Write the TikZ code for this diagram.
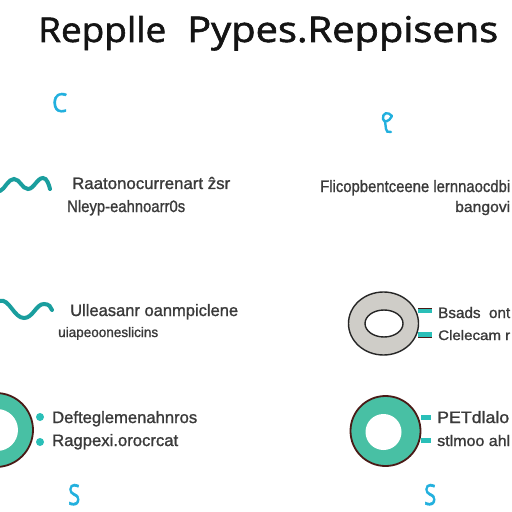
\documentclass[tikz,border=0pt]{standalone}
\usepackage{fontspec}
\setmainfont[FakeBold=1.2]{Liberation Sans}
\newfontfamily\titlefont[FakeBold=1.6]{Open Sans}
\newfontfamily\glyphfont[FakeBold=2]{Open Sans}
\newcommand\fitbox[3]{\resizebox{#1bp}{#2bp}{#3}}
\definecolor{wavec}{HTML}{1A9E9E}
\definecolor{tealfill}{HTML}{48C0A4}
\definecolor{tealbar}{HTML}{2ABFB8}
\definecolor{darkring}{HTML}{4A1A16}
\definecolor{grayfill}{HTML}{CFCDC8}
\definecolor{cyanglyph}{HTML}{22B0DE}
\definecolor{bodytext}{HTML}{3A3A3A}
\tikzset{
  wavestyle/.style={draw=wavec, line width=4bp, line cap=round},
  txt/.style={anchor=base west, inner sep=0pt, text=bodytext},
  ttl/.style={anchor=base west, inner sep=0pt, text=black!92},
  glyph/.style={anchor=base west, inner sep=0pt, text=cyanglyph},
  tealring/.style={fill=tealfill, draw=darkring, line width=1.8bp},
  grayring/.style={fill=grayfill, draw=black!85, line width=1.4bp},
  barbox/.style={fill=tealbar, draw=none},
  dotmark/.style={circle, fill=tealbar, inner sep=0pt, minimum size=8bp}
}
\begin{document}
\begin{tikzpicture}[x=1bp,y=-1bp]
\useasboundingbox (0,0) rectangle (512,512);
\fill[white] (0,0) rectangle (512,512);
\clip (0,0) rectangle (512,512);

% title
\node[ttl] (t1) at (38,42) {\titlefont\fitbox{128}{26}{Repplle}};
\node[ttl] (t2) at (187,42) {\titlefont\fitbox{311}{26}{Pypes.Reppisens}};

% small cyan glyphs
\node[glyph] (gc) at (52,112) {\glyphfont\fitbox{15}{19}{C}};
\draw[cyanglyph, line width=2.4bp, line cap=round] (392,116) .. controls (388,111) and (382,113) .. (383,119) .. controls (384,123) and (389,122) .. (392,116);
\draw[cyanglyph, line width=2.4bp, line cap=round] (385,121) -- (386,129) .. controls (386,132) and (388,132) .. (391,132);
\node[glyph] (gs1) at (68,505) {\glyphfont\fitbox{12}{21}{S}};
\node[glyph] (gs2) at (424,505) {\glyphfont\fitbox{12}{21}{S}};

% top-left wave and text
\draw[wavestyle] (0,191) .. controls (5,189) and (8,179) .. (14,179) .. controls (20,179) and (22,189) .. (28,189) .. controls (34,189) and (37,178) .. (43,178) .. controls (47,178) and (49,185) .. (50,189);
\node[txt] (a1) at (72,189) {\fitbox{158}{12}{Raatonocurrenart ẑsr}};
\node[txt] (a2) at (67,212) {\fitbox{118}{12}{Nleyp-eahnoarr0s}};

% top-right text
\node[txt] (b1) at (320,192) {\fitbox{190}{12}{Flicopbentceene lernnaocdbi}};
\node[txt] (b2) at (455,212) {\fitbox{55}{11}{bangovi}};

% middle-left wave and text
\draw[wavestyle] (0,301) .. controls (9,298) and (14,318) .. (24,318) .. controls (33,318) and (36,304) .. (44,304) .. controls (49,304) and (51,307) .. (52,310);
\node[txt] (c1) at (70,316) {\fitbox{168}{12}{Ulleasanr oanmpiclene}};
\node[txt] (c2) at (58,337) {\fitbox{100}{10}{uiapeooneslicins}};

% middle-right gray donut
\path[grayring, even odd rule] (383.5,323.5) ellipse [x radius=35, y radius=31.5] (384,323.5) ellipse [x radius=19, y radius=13.5];
\node[inner sep=0pt, minimum size=1bp] (gd) at (383.5,323.5) {};
\fill[barbox] (418,308) rectangle (432,313);
\draw[darkring, line width=1bp] (418,308) -- (432,308);
\fill[barbox] (418,332) rectangle (432,337);
\draw[darkring, line width=1bp] (418,337) -- (432,337);
\node[txt] (d1) at (438,318) {\fitbox{72}{11}{Bsads\ \ ont}};
\node[txt] (d2) at (438,340) {\fitbox{72}{10}{Clelecam r}};

% bottom-left teal ring
\path[tealring] (-4,430) circle (37);
\fill[white] (-3,430) circle (21);
\node[inner sep=0pt, minimum size=1bp] (ra) at (-4,430) {};
\node[dotmark] (e1dot) at (40,417) {};
\node[dotmark] (e2dot) at (40,442) {};
\node[txt] (e1) at (52,423) {\fitbox{145}{12}{Defteglemenahnros}};
\node[txt] (e2) at (52,446) {\fitbox{126}{12}{Ragpexi.orocrcat}};

% bottom-right teal ring
\path[tealring] (385.5,431) circle (35);
\fill[white] (383.5,432) circle (18);
\node[inner sep=0pt, minimum size=1bp] (rb) at (385.5,431) {};
\fill[barbox] (421,415) rectangle (431,420);
\fill[barbox] (421,438) rectangle (431,443);
\node[txt] (f1) at (437,423) {\fitbox{72}{12}{PETdlalo}};
\node[txt] (f2) at (437,446) {\fitbox{73}{11}{stlmoo ahl}};
\end{tikzpicture}
\end{document}
